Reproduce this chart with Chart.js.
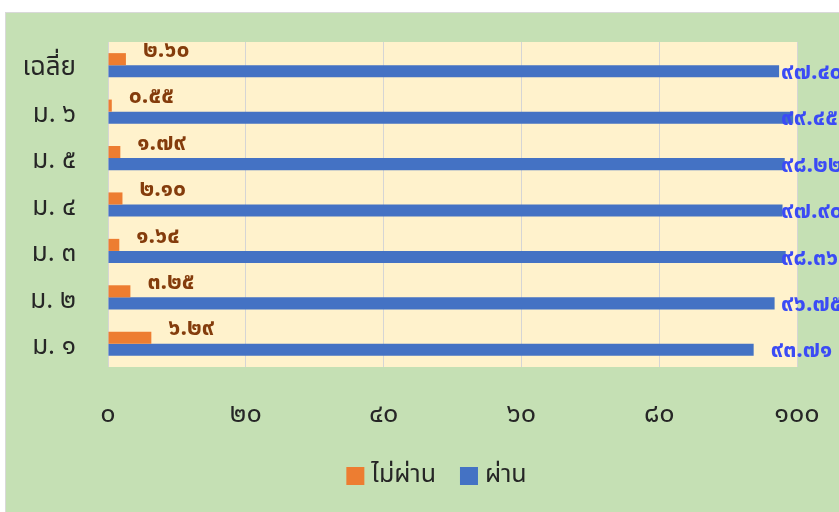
<!DOCTYPE html>
<html>
<head>
<meta charset="utf-8">
<script src="https://cdn.jsdelivr.net/npm/chart.js@4.4.1/dist/chart.umd.min.js"></script>
<style>
  html, body { margin: 0; padding: 0; background: #ffffff; width: 839px; height: 512px; overflow: hidden; }
  #panel { position: absolute; left: 5px; top: 12px; width: 840px; height: 510px; background: #C5E0B4; border: 1px solid #D9D9D9; box-sizing: border-box; }
  #wrap { position: absolute; left: 6px; top: 13px; width: 833px; height: 499px; }
</style>
</head>
<body>
<div id="panel"></div>
<div id="wrap"><canvas id="c" width="833" height="499"></canvas></div>
<script>
const categories = ['เฉลี่ย', 'ม. ๖', 'ม. ๕', 'ม. ๔', 'ม. ๓', 'ม. ๒', 'ม. ๑'];
const failValues = [2.60, 0.55, 1.79, 2.10, 1.64, 3.25, 6.29];
const passValues = [97.40, 99.45, 98.22, 97.90, 98.36, 96.75, 93.71];
const seriesNames = ['ไม่ผ่าน', 'ผ่าน'];
const xTicks = [0, 20, 40, 60, 80, 100];

const FONT = "'Noto Sans Thai', 'Leelawadee UI', Tahoma, 'Noto Sans', sans-serif";
const thaiDigits = '๐๑๒๓๔๕๖๗๘๙';
function toThai(s) { return String(s).replace(/[0-9]/g, d => thaiDigits[+d]); }

const bgPlugin = {
  id: 'plotBg',
  beforeDraw(chart) {
    const { ctx, chartArea: a } = chart;
    ctx.save();
    ctx.fillStyle = '#FFF2CC';
    ctx.fillRect(a.left, a.top, a.right - a.left, a.bottom - a.top);
    ctx.restore();
  }
};

const labelPlugin = {
  id: 'valueLabels',
  afterDatasetsDraw(chart) {
    const { ctx, chartArea: a } = chart;
    ctx.save();
    ctx.textBaseline = 'middle';
    ctx.textAlign = 'left';
    chart.data.datasets.forEach((ds, di) => {
      const meta = chart.getDatasetMeta(di);
      meta.data.forEach((bar, i) => {
        const txt = toThai(ds.data[i].toFixed(2));
        ctx.font = 'bold 23px ' + FONT;
        if (di === 0) {
          ctx.fillStyle = '#843C0C';
          ctx.fillText(txt, bar.x + 17, bar.y - 7);
        } else {
          ctx.fillStyle = '#3B4BF5';
          const x = Math.min(bar.x + 17, a.right - 16);
          ctx.fillText(txt, x, bar.y + 3);
        }
      });
    });
    ctx.restore();
  }
};

const legendPlugin = {
  id: 'customLegend',
  afterDraw(chart) {
    const { ctx } = chart;
    const box = 18, gap = 7, itemGap = 24;
    ctx.save();
    ctx.font = '25px ' + FONT;
    ctx.textBaseline = 'middle';
    ctx.textAlign = 'left';
    const items = chart.data.datasets.map(ds => ({ text: ds.label, color: ds.backgroundColor, w: ctx.measureText(ds.label).width }));
    const total = items.reduce((s, it) => s + box + gap + it.w, 0) + itemGap * (items.length - 1);
    let x = chart.width / 2 + 14 - total / 2;
    const y = 463;
    items.forEach(it => {
      ctx.fillStyle = it.color;
      ctx.fillRect(x, y - box / 2, box, box);
      ctx.fillStyle = '#262626';
      ctx.fillText(it.text, x + box + gap, y + 1);
      x += box + gap + it.w + itemGap;
    });
    ctx.restore();
  }
};

new Chart(document.getElementById('c'), {
  type: 'bar',
  data: {
    labels: categories,
    datasets: [
      { label: seriesNames[0], data: failValues, backgroundColor: '#ED7D31', categoryPercentage: 0.52, barPercentage: 1.0 },
      { label: seriesNames[1], data: passValues, backgroundColor: '#4472C4', categoryPercentage: 0.52, barPercentage: 1.0 }
    ]
  },
  options: {
    indexAxis: 'y',
    responsive: false,
    animation: false,
    layout: { padding: { left: 0, right: 42, top: 29, bottom: 68 } },
    scales: {
      x: {
        min: 0, max: 100,
        afterBuildTicks(scale) { scale.ticks = xTicks.map(v => ({ value: v })); },
        afterFit(scale) { scale.height = 77; scale.paddingLeft = 0; scale.paddingRight = 0; },
        grid: { color: '#D5D5D5', drawTicks: false },
        border: { display: false },
        ticks: { padding: 33, color: '#262626', font: { family: FONT, size: 27 }, callback: v => toThai(v), maxRotation: 0 }
      },
      y: {
        afterFit(scale) { scale.width = 102; scale.paddingTop = 0; scale.paddingBottom = 0; },
        grid: { display: false, drawTicks: false },
        border: { display: false },
        ticks: { padding: 32, labelOffset: 5, color: '#262626', font: { family: FONT, size: 26 } }
      }
    },
    plugins: {
      legend: { display: false },
      tooltip: { enabled: false }
    }
  },
  plugins: [bgPlugin, labelPlugin, legendPlugin]
});
</script>
</body>
</html>
